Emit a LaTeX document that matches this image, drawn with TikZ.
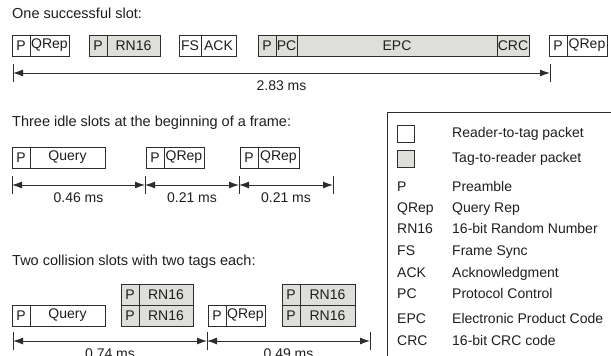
\documentclass[tikz,border=0pt]{standalone}
\usepackage{fontspec}
\setmainfont{Liberation Sans}
\usetikzlibrary{arrows.meta,positioning}
\definecolor{pktEdge}{RGB}{45,45,45}
\definecolor{pktGray}{RGB}{222,222,218}
\definecolor{txtGray}{RGB}{30,30,30}

\begin{document}
\begin{tikzpicture}[x=1pt,y=-1pt,
  pkt/.style={draw=pktEdge, line width=1pt, minimum height=21pt, inner sep=0pt, outer sep=0pt, text=txtGray, font=\fontsize{14}{16}\selectfont},
  rt/.style={pkt, fill=white},
  tr/.style={pkt, fill=pktGray},
  first/.style={anchor=north west},
  title/.style={anchor=west, inner sep=0pt, text=txtGray, font=\fontsize{14.5}{17}\selectfont},
  leg/.style={anchor=base west, inner sep=0pt, text=txtGray, font=\fontsize{14}{17}\selectfont},
  dim/.style={{Latex[length=10pt,width=7pt]}-{Latex[length=10pt,width=7pt]}, line width=1pt, draw=pktEdge},
  tick/.style={line width=1pt, draw=pktEdge},
  lbl/.style={below=4pt, text=txtGray, font=\fontsize{14}{17}\selectfont}]
\useasboundingbox (0,0) rectangle (611,356);
\clip (0,0) rectangle (611,356);

\node[title] (t1) at (12,13) {One successful slot:};
\node[rt, first, minimum width=18pt] (a1) at (12,35) {P};
\node[rt, minimum width=39pt, right=0pt of a1] (a2) {QRep};
\node[tr, first, minimum width=18pt] (b1) at (89,35) {P};
\node[tr, minimum width=53pt, right=0pt of b1] (b2) {RN16};
\node[rt, first, minimum width=22pt] (c1) at (179,35) {FS};
\node[rt, minimum width=35pt, right=0pt of c1] (c2) {ACK};
\node[tr, first, minimum width=18pt] (d1) at (258,35) {P};
\node[tr, minimum width=21pt, right=0pt of d1] (d2) {PC};
\node[tr, minimum width=200pt, right=0pt of d2] (d3) {EPC};
\node[tr, minimum width=32pt, right=0pt of d3] (d4) {CRC};
\node[rt, first, minimum width=18pt] (e1) at (549,35) {P};
\node[rt, minimum width=40pt, right=0pt of e1] (e2) {QRep};
\coordinate (s1) at (13,73);
\coordinate (s2) at (550,73);
\foreach \c in {s1,s2} \draw[tick] (\c) ++(0,-9) -- ++(0,18);
\draw[dim] (s1) -- node[lbl] (ls1) {2.83 ms} (s2);

\node[title] (t2) at (12,123) {Three idle slots at the beginning of a frame:};
\node[rt, first, minimum width=18pt] (f1) at (12,147) {P};
\node[rt, minimum width=75pt, right=0pt of f1] (f2) {Query};
\node[rt, first, minimum width=18pt] (g1) at (146,147) {P};
\node[rt, minimum width=40pt, right=0pt of g1] (g2) {QRep};
\node[rt, first, minimum width=18pt] (h1) at (240,147) {P};
\node[rt, minimum width=41pt, right=0pt of h1] (h2) {QRep};
\coordinate (i1) at (12,185);
\coordinate (i2) at (145,185);
\coordinate (i3) at (239,185);
\coordinate (i4) at (333,185);
\foreach \c in {i1,i2,i3,i4} \draw[tick] (\c) ++(0,-9) -- ++(0,18);
\draw[dim] (i1) -- node[lbl] (li1) {0.46 ms} (i2);
\draw[dim] (i2) -- node[lbl] (li2) {0.21 ms} (i3);
\draw[dim] (i3) -- node[lbl] (li3) {0.21 ms} (i4);

\node[title] (t3) at (12,262) {Two collision slots with two tags each:};
\node[rt, first, minimum width=18pt] (j1) at (12,305) {P};
\node[rt, minimum width=75pt, right=0pt of j1] (j2) {Query};
\node[tr, first, minimum width=18pt] (k1) at (121,284) {P};
\node[tr, minimum width=54pt, right=0pt of k1] (k2) {RN16};
\node[tr, minimum width=18pt, below=0pt of k1] (k3) {P};
\node[tr, minimum width=54pt, right=0pt of k3] (k4) {RN16};
\node[rt, first, minimum width=18pt] (m1) at (208,305) {P};
\node[rt, minimum width=39pt, right=0pt of m1] (m2) {QRep};
\node[tr, first, minimum width=18pt] (n1) at (282,284) {P};
\node[tr, minimum width=55pt, right=0pt of n1] (n2) {RN16};
\node[tr, minimum width=18pt, below=0pt of n1] (n3) {P};
\node[tr, minimum width=55pt, right=0pt of n3] (n4) {RN16};
\coordinate (o1) at (13,341);
\coordinate (o2) at (207,341);
\coordinate (o3) at (370,341);
\foreach \c in {o1,o2,o3} \draw[tick] (\c) ++(0,-9) -- ++(0,18);
\draw[dim] (o1) -- node[lbl] (lo1) {0.74 ms} (o2);
\draw[dim] (o2) -- node[lbl] (lo2) {0.49 ms} (o3);

\node[draw=pktEdge, line width=1pt, first, minimum width=260pt, minimum height=270pt] (legend) at (387,112) {};
\node[rt, first, minimum width=17pt, minimum height=17pt] (keyrt) at (397,125) {};
\node[tr, first, minimum width=17pt, minimum height=17pt] (keytr) at (397,150) {};
\node[leg] (descrt) at (452,137) {Reader-to-tag packet};
\node[leg] (desctr) at (452,162) {Tag-to-reader packet};
\foreach \ab/\txt/\yy [count=\i] in {P/Preamble/186, QRep/Query Rep/207, RN16/16-bit Random Number/228,
  FS/Frame Sync/250, ACK/Acknowledgment/272, PC/Protocol Control/293,
  EPC/Electronic Product Code/318, CRC/16-bit CRC code/340}
{
  \node[leg] (abbr\i) at (397,\yy+5) {\ab};
  \node[leg] (desc\i) at (452,\yy+5) {\txt};
}
\end{tikzpicture}
\end{document}
